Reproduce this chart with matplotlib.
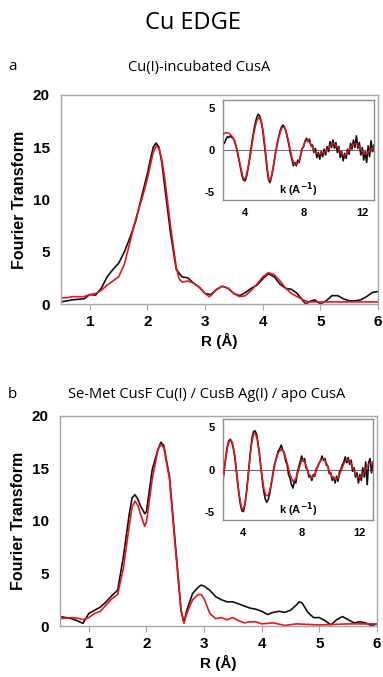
import matplotlib
matplotlib.use("Agg")
import matplotlib.pyplot as plt

plt.rcParams["axes.unicode_minus"] = False

# ---------------- data ----------------
# Panel a main: R (Å) vs FT magnitude
ra_black = [0.5, 0.6, 0.7, 0.8, 0.9, 1.0, 1.1, 1.2, 1.3, 1.4, 1.5, 1.6, 1.7, 1.8, 1.9, 2.0, 2.05, 2.1, 2.15, 2.2, 2.25,
            2.3, 2.4, 2.5, 2.6, 2.7, 2.8, 2.9, 3.0, 3.1, 3.2, 3.3, 3.4, 3.5, 3.6, 3.7, 3.8, 3.9, 4.0, 4.1, 4.2,
            4.3, 4.4, 4.5, 4.6, 4.7, 4.75, 4.8, 4.9, 5.0, 5.1, 5.2, 5.3, 5.4, 5.5, 5.6, 5.7, 5.8, 5.9, 6.0]
fa_black = [0.2, 0.3, 0.4, 0.45, 0.5, 0.9, 0.85, 1.5, 2.6, 3.3, 3.9, 5.0, 6.4, 8.0, 10.3, 12.5, 13.8, 15.0, 15.4, 15.0, 13.5,
            11.2, 6.8, 3.3, 2.6, 2.5, 2.0, 1.6, 1.0, 0.9, 1.4, 1.7, 1.5, 1.0, 0.8, 1.1, 1.5, 1.8, 2.4, 2.9, 2.6,
            1.9, 1.5, 1.4, 1.0, 0.3, 0.0, 0.2, 0.4, 0.0, 0.3, 0.8, 0.8, 0.5, 0.3, 0.3, 0.4, 0.7, 1.1, 1.2]
ra_red = [0.5, 0.6, 0.7, 0.8, 0.9, 1.0, 1.1, 1.2, 1.3, 1.4, 1.5, 1.6, 1.7, 1.8, 1.9, 2.0, 2.05, 2.1, 2.15, 2.2, 2.25,
          2.3, 2.4, 2.5, 2.55, 2.6, 2.7, 2.8, 2.9, 3.0, 3.07, 3.1, 3.2, 3.3, 3.4, 3.5, 3.6, 3.7, 3.8, 3.9, 4.0,
          4.1, 4.2, 4.3, 4.4, 4.5, 4.6, 4.7, 4.8, 4.9, 5.0, 5.5, 6.0]
fa_red = [0.6, 0.6, 0.7, 0.7, 0.7, 0.9, 1.0, 1.3, 1.8, 2.2, 2.6, 3.8, 6.0, 8.2, 10.0, 12.0, 13.3, 14.5, 15.1, 14.9, 13.8,
          12.0, 7.5, 3.5, 2.4, 2.1, 2.2, 2.0, 1.6, 1.0, 0.7, 0.8, 1.4, 1.7, 1.5, 1.0, 0.7, 0.8, 1.3, 1.9, 2.6,
          3.0, 2.8, 2.2, 1.5, 1.0, 0.7, 0.4, 0.2, 0.2, 0.2, 0.2, 0.2]

# Panel a inset: k (Å^-1) vs chi
ka_black = [2.6, 2.7, 2.8, 2.9, 3.0, 3.1, 3.2, 3.3, 3.4, 3.5, 3.6, 3.7, 3.8, 3.9, 4.0, 4.1, 4.2, 4.3, 4.4, 4.5,
            4.6, 4.7, 4.8, 4.9, 5.0, 5.1, 5.2, 5.3, 5.4, 5.5, 5.6, 5.7, 5.8, 5.9, 6.0, 6.1, 6.2, 6.3, 6.4, 6.5,
            6.6, 6.7, 6.8, 6.9, 7.0, 7.1, 7.2, 7.3, 7.4, 7.5, 7.6, 7.7, 7.8, 7.9, 8.0, 8.1, 8.2, 8.3, 8.4, 8.5,
            8.6, 8.7, 8.8, 8.9, 9.0, 9.1, 9.2, 9.3, 9.4, 9.5, 9.6, 9.7, 9.8, 9.9, 10.0, 10.1, 10.2, 10.3, 10.4, 10.5,
            10.6, 10.7, 10.8, 10.9, 11.0, 11.1, 11.2, 11.3, 11.4, 11.5, 11.6, 11.7, 11.8, 11.9, 12.0, 12.1, 12.2, 12.3,
            12.4, 12.5, 12.6, 12.7, 12.8]
ca_black = [0.8, 1.3, 1.6, 1.5, 1.7, 1.5, 1.4, 1.0, 0.4, -0.4, -1.3, -2.2, -3.1, -3.6, -3.7, -3.2, -2.3, -1.2, 0.0, 1.2,
            2.3, 3.2, 3.9, 4.3, 4.1, 3.5, 2.5, 1.0, -0.5, -2.2, -3.5, -3.9, -3.3, -2.4, -1.3, -0.2, 0.8, 1.6, 2.3, 2.8,
            3.0, 2.7, 2.2, 1.4, 0.6, -0.4, -1.1, -1.9, -1.5, -1.9, -1.2, -1.5, -0.6, 0.2, 0.4, 1.1, 1.4, 1.0, 1.3, 0.5,
            0.6, -0.3, 0.2, -0.9, -0.3, -1.1, -0.2, -0.8, 0.1, -0.6, 0.4, -0.2, 1.0, 0.3, 1.2, 0.2, 0.9, -0.3, 0.4, -0.9,
            -0.2, -1.3, -0.4, -1.0, 0.1, -0.5, 0.8, 0.1, 1.2, 0.3, 1.7, 0.2, 0.9, -0.6, 0.3, -1.2, -0.2, -1.5,
            0.5, -0.8, 1.1, -0.2, 0.6]
ka_red = [2.5, 2.7, 2.9, 3.1, 3.3, 3.5, 3.7, 3.85, 3.95, 4.05, 4.2, 4.4, 4.6, 4.8, 4.95, 5.1, 5.25, 5.4, 5.55, 5.65,
          5.75, 5.9, 6.1, 6.3, 6.5, 6.65, 6.8, 7.0, 7.2, 7.35, 7.5, 7.7, 7.9, 8.1, 8.25, 8.4, 8.6, 8.8, 9.0, 9.2,
          9.4, 9.6, 9.8, 10.0, 10.2, 10.4, 10.6, 10.8, 11.0, 11.2, 11.4, 11.6, 11.8, 12.0, 12.2, 12.4, 12.6, 12.8]
ca_red = [1.9, 2.1, 2.0, 1.7, 1.1, -0.3, -2.0, -3.2, -3.5, -3.3, -2.2, -0.3, 2.0, 3.5, 3.9, 3.5, 2.2, -0.2, -2.6, -3.6,
          -3.5, -2.3, -0.2, 1.5, 2.6, 2.8, 2.3, 0.8, -0.9, -1.7, -1.8, -1.3, 0.1, 1.0, 1.2, 1.0, 0.3, -0.3, -0.5, -0.4,
          -0.3, 0.0, 0.5, 0.8, 0.6, 0.1, -0.5, -0.7, -0.3, 0.3, 0.7, 0.8, 0.4, -0.2, -0.5, -0.3, 0.1, 0.3]

# Panel b main
rb_black = [0.5, 0.6, 0.7, 0.8, 0.9, 1.0, 1.1, 1.2, 1.3, 1.4, 1.5, 1.6, 1.7, 1.75, 1.8, 1.85, 1.9, 1.97, 2.0, 2.1,
            2.2, 2.25, 2.3, 2.4, 2.5, 2.6, 2.65, 2.7, 2.8, 2.9, 2.95, 3.0, 3.1, 3.2, 3.3, 3.4, 3.5, 3.6, 3.7, 3.8,
            3.9, 4.0, 4.1, 4.2, 4.3, 4.4, 4.5, 4.6, 4.65, 4.7, 4.8, 4.9, 5.0, 5.1, 5.2, 5.3, 5.4, 5.5, 5.6, 5.7,
            5.8, 5.9, 6.0]
fb_black = [0.9, 0.8, 0.7, 0.5, 0.25, 1.2, 1.5, 1.8, 2.3, 2.9, 3.4, 6.6, 10.6, 12.2, 12.5, 12.1, 11.4, 10.7, 10.9, 14.9,
            16.8, 17.5, 17.2, 14.2, 7.9, 1.5, 0.3, 1.5, 3.1, 3.7, 3.9, 3.8, 3.4, 2.8, 2.5, 2.3, 2.3, 2.1, 1.9, 1.7,
            1.6, 1.4, 1.1, 1.3, 1.4, 1.3, 1.5, 2.0, 2.3, 2.2, 1.3, 0.8, 0.8, 0.5, 0.1, 0.6, 0.9, 0.6, 0.3, 0.4,
            0.3, 0.05, 0.2]
rb_red = [0.5, 0.6, 0.7, 0.8, 0.9, 1.0, 1.1, 1.2, 1.3, 1.4, 1.5, 1.6, 1.7, 1.75, 1.8, 1.85, 1.9, 1.97, 2.0, 2.1,
          2.2, 2.25, 2.3, 2.4, 2.5, 2.6, 2.65, 2.7, 2.8, 2.9, 2.95, 3.0, 3.1, 3.2, 3.3, 3.4, 3.5, 3.6, 3.7, 3.8,
          3.9, 4.0, 4.2, 4.4, 4.6, 4.8, 5.0, 5.5, 6.0]
fb_red = [0.7, 0.75, 0.8, 0.75, 0.6, 0.8, 1.2, 1.4, 2.0, 2.6, 3.0, 5.5, 9.5, 11.3, 11.9, 11.5, 10.6, 9.5, 9.9, 14.0,
          16.8, 17.3, 17.0, 14.0, 7.5, 1.5, 0.3, 1.2, 2.5, 3.0, 3.0, 2.6, 1.2, 0.7, 0.8, 0.6, 0.8, 0.5, 0.3, 0.4,
          0.4, 0.2, 0.3, 0.05, 0.2, 0.15, 0.1, 0.2, 0.2]

# Panel b inset
kb_black = [2.6, 2.7, 2.8, 2.9, 3.0, 3.1, 3.2, 3.3, 3.4, 3.5, 3.6, 3.7, 3.8, 3.9, 4.0, 4.1, 4.2, 4.3, 4.4, 4.5,
            4.6, 4.7, 4.8, 4.9, 5.0, 5.1, 5.2, 5.3, 5.4, 5.5, 5.6, 5.7, 5.8, 5.9, 6.0, 6.1, 6.2, 6.3, 6.4, 6.5,
            6.6, 6.7, 6.8, 6.9, 7.0, 7.1, 7.2, 7.3, 7.4, 7.5, 7.6, 7.7, 7.8, 7.9, 8.0, 8.1, 8.2, 8.3, 8.4, 8.5,
            8.6, 8.7, 8.8, 8.9, 9.0, 9.1, 9.2, 9.3, 9.4, 9.5, 9.6, 9.7, 9.8, 9.9, 10.0, 10.1, 10.2, 10.3, 10.4, 10.5,
            10.6, 10.7, 10.8, 10.9, 11.0, 11.1, 11.2, 11.3, 11.4, 11.5, 11.6, 11.7, 11.8, 11.9, 12.0, 12.1, 12.2, 12.3,
            12.4, 12.5, 12.6, 12.7, 12.8, 12.9]
cb_black = [-1.4, 0.2, 1.6, 2.8, 3.4, 3.6, 3.3, 2.6, 1.6, 0.1, -1.6, -3.0, -4.2, -4.9, -5.0, -4.2, -2.9, -1.2, 0.6, 2.4,
            3.8, 4.5, 4.6, 4.2, 3.2, 1.9, 0.3, -1.3, -2.6, -3.5, -3.9, -3.6, -2.9, -1.9, -0.9, 0.3, 1.0, 1.6, 2.2, 2.5,
            2.9, 2.3, 2.0, 1.0, 0.6, -0.6, -1.0, -1.8, -2.2, -1.4, -1.6, -0.4, 0.3, 0.9, 1.6, 1.0, 1.3, 0.2, 0.0, -0.9,
            -0.7, -1.3, -0.6, -0.8, 0.1, 0.3, 0.8, 1.0, 1.6, 1.1, 1.3, 0.5, 0.4, -0.5, -0.4, -1.3, -0.9, -1.6, -0.8, -1.4,
            -0.3, 0.0, 0.6, 0.9, 1.5, 0.8, 1.4, 0.6, 1.1, -0.2, 0.2, -0.9, -0.4, -1.6, -0.6, -1.3, 0.2, -0.9,
            0.9, -1.8, 0.8, 1.3, -0.4, 0.9]
kb_red = [2.65, 2.8, 2.95, 3.1, 3.25, 3.4, 3.55, 3.7, 3.85, 3.97, 4.1, 4.25, 4.4, 4.55, 4.7, 4.8, 4.95, 5.1, 5.25, 5.4,
          5.55, 5.7, 5.85, 6.0, 6.2, 6.4, 6.6, 6.8, 7.0, 7.2, 7.4, 7.6, 7.8, 8.0, 8.1, 8.3, 8.5, 8.7, 8.9, 9.1,
          9.3, 9.5, 9.7, 9.9, 10.1, 10.3, 10.5, 10.7, 10.9, 11.1, 11.3, 11.5, 11.7, 11.9, 12.1, 12.3, 12.5, 12.7, 12.9]
cb_red = [-0.4, 1.5, 3.0, 3.5, 3.2, 1.8, -0.5, -2.8, -4.4, -4.8, -4.2, -2.2, 0.5, 2.9, 4.2, 4.3, 3.6, 1.8, -0.4, -2.2,
          -3.1, -3.1, -2.2, -0.8, 0.9, 2.0, 2.4, 2.0, 0.8, -0.6, -1.4, -1.1, 0.0, 1.1, 1.2, 0.5, -0.6, -1.0, -0.6, 0.3,
          1.1, 1.3, 0.8, -0.2, -0.9, -1.2, -1.0, -0.2, 0.7, 1.2, 1.0, 0.3, -0.5, -1.0, -0.9, -0.3, 0.4, 0.8, 0.8]

r_ticks = [1, 2, 3, 4, 5, 6]
ft_ticks = [0, 5, 10, 15, 20]
k_ticks = [4, 8, 12]
chi_ticks = [-5, 0, 5]

# ---------------- figure ----------------
W, H = 383, 677
fig = plt.figure(figsize=(W / 100, H / 100), dpi=100)
BLACK = "#111111"
RED = "#e8151b"
SPINE = "#a6a6a6"
TXT_FONT = ["Open Sans", "DejaVu Sans"]
NUM_FONT = ["Liberation Sans", "DejaVu Sans"]


def px_axes(l, t, r, b):
    return [l / W, 1 - b / H, (r - l) / W, (b - t) / H]


def main_axes(rect, rb, fb, rr, fr):
    ax = fig.add_axes(rect)
    ax.plot(rb, fb, color=BLACK, lw=1.2, solid_joinstyle="round")
    ax.plot(rr, fr, color=RED, lw=1.2, solid_joinstyle="round")
    ax.set_xlim(0.5, 6)
    ax.set_ylim(0, 20)
    ax.set_xticks(r_ticks)
    ax.set_yticks(ft_ticks)
    for s in ax.spines.values():
        s.set_color(SPINE)
        s.set_linewidth(1.0)
    ax.tick_params(axis="x", length=4, width=0.8, color=SPINE, pad=4)
    ax.tick_params(axis="y", length=0, pad=8)
    for lab in ax.get_xticklabels() + ax.get_yticklabels():
        lab.set_fontfamily(NUM_FONT)
        lab.set_fontweight("bold")
        lab.set_fontsize(11)
    ax.set_ylabel("Fourier Transform", fontfamily=NUM_FONT, fontweight="bold", fontsize=11.5, labelpad=4)
    ax.set_xlabel("R (Å)", fontfamily=NUM_FONT, fontweight="bold", fontsize=11, labelpad=3)
    return ax


def inset_axes(rect, kbk, cbk, kr, cr, xlim):
    ax = fig.add_axes(rect)
    ax.axhline(0, color="#707070", lw=0.8, zorder=1)
    ax.plot(kbk, cbk, color=BLACK, lw=1.2, zorder=2)
    ax.plot(kr, cr, color=RED, lw=1.1, zorder=3)
    ax.set_xlim(*xlim)
    ax.set_ylim(-6, 6)
    ax.set_xticks(k_ticks)
    ax.set_yticks(chi_ticks)
    for s in ax.spines.values():
        s.set_color("#8c8c8c")
        s.set_linewidth(1.0)
    ax.tick_params(axis="both", length=0)
    ax.tick_params(axis="y", pad=6)
    ax.tick_params(axis="x", pad=6)
    for lab in ax.get_xticklabels() + ax.get_yticklabels():
        lab.set_fontfamily(NUM_FONT)
        lab.set_fontweight("bold")
        lab.set_fontsize(8)
    ax.text(0.5, 0.1, r"k (A$^{\mathbf{-1}}$)", transform=ax.transAxes, ha="center", va="center",
            fontfamily=NUM_FONT, fontweight="bold", fontsize=8)
    return ax


axa = main_axes(px_axes(61, 95, 378, 304), ra_black, fa_black, ra_red, fa_red)
insa = inset_axes(px_axes(223, 100, 374, 200), ka_black, ca_black, ka_red, ca_red, (2.5, 12.8))

axb = main_axes(px_axes(60, 416, 377, 626), rb_black, fb_black, rb_red, fb_red)
insb = inset_axes(px_axes(223, 419, 373, 520), kb_black, cb_black, kb_red, cb_red, (2.6, 12.9))


def ftext(x, y, s, **kw):
    fig.text(x / W, 1 - y / H, s, **kw)


ftext(193, 23, "Cu EDGE", ha="center", va="center", fontsize=17, fontfamily=TXT_FONT)
ftext(8, 66, "a", ha="left", va="center", fontsize=11, fontfamily=TXT_FONT)
ftext(199, 67, "Cu(I)-incubated CusA", ha="center", va="center", fontsize=10.5, fontfamily=TXT_FONT)
ftext(8, 394, "b", ha="left", va="center", fontsize=11, fontfamily=TXT_FONT)
ftext(207, 395, "Se-Met CusF Cu(I) / CusB Ag(I) / apo CusA", ha="center", va="center", fontsize=10.5,
      fontfamily=TXT_FONT)

fig.savefig("out.png", dpi=100)
